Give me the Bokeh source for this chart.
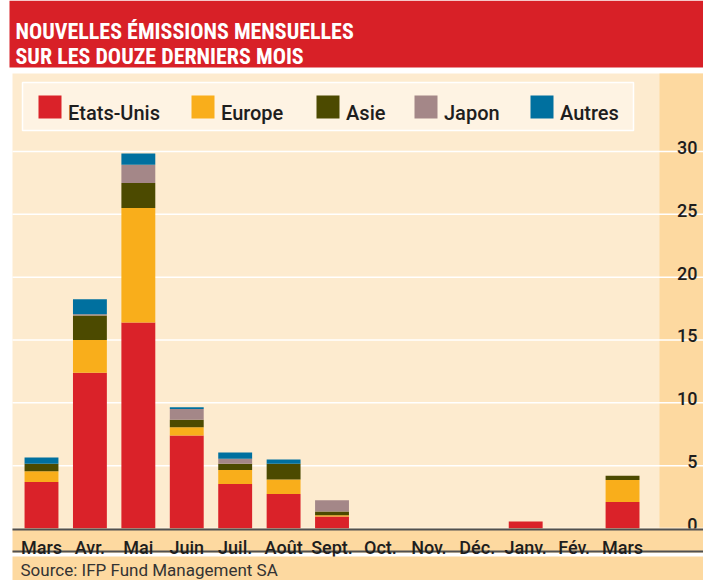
from bokeh.plotting import figure
from bokeh.models import Range1d, ColumnDataSource
from bokeh.core.properties import value
from bokeh.embed import file_html
from bokeh.resources import INLINE

# ---------------- data ----------------
months = ["Mars", "Avr.", "Mai", "Juin", "Juil.", "Août", "Sept.", "Oct.", "Nov.", "Déc.", "Janv.", "Fév.", "Mars"]
series_names = ["Etats-Unis", "Europe", "Asie", "Japon", "Autres"]
etats_unis = [3.7, 12.4, 16.4, 7.4, 3.55, 2.75, 0.95, 0, 0, 0, 0.55, 0, 2.1]
europe = [0.85, 2.6, 9.1, 0.65, 1.1, 1.15, 0.1, 0, 0, 0, 0, 0, 1.75]
asie = [0.6, 1.95, 2.0, 0.6, 0.5, 1.25, 0.3, 0, 0, 0, 0, 0, 0.35]
japon = [0, 0.1, 1.45, 0.85, 0.4, 0, 0.9, 0, 0, 0, 0, 0, 0]
autres = [0.5, 1.2, 0.9, 0.15, 0.5, 0.35, 0, 0, 0, 0, 0, 0, 0]
y_ticks = [0, 5, 10, 15, 20, 25, 30]
y_tick_labels = ["0", "5", "10", "15", "20", "25", "30"]
title_lines = ["NOUVELLES ÉMISSIONS MENSUELLES", "SUR LES DOUZE DERNIERS MOIS"]
source_text = "Source: IFP Fund Management SA"

# ---------------- style ----------------
colors = ["#DA2229", "#F9AE1B", "#4C4A00", "#A48788", "#00709F"]
RED_TITLE = "#D82027"
CREAM = "#FDEBCF"
DARK_CREAM = "#FDD9A0"
LEGEND_FILL = "#FEF3E3"
TEXT = "#1E1E1E"
FONT = "Roboto Medium, Roboto"
TITLE_FONT = "Roboto Condensed, Roboto"

W, H = 703, 580
# pixel layout (figure coordinates, y from top)
ZERO_PX = 528.0
PX_PER_UNIT = 12.567
FIRST_X_PX = 41.0
STEP_PX = 48.42
LEFT = 12

x_start = -FIRST_X_PX / STEP_PX
x_end = (W - FIRST_X_PX) / STEP_PX
y_start = -(H - ZERO_PX) / PX_PER_UNIT
y_end = ZERO_PX / PX_PER_UNIT

p = figure(width=W, height=H, output_backend="svg", toolbar_location=None,
           x_range=Range1d(x_start, x_end), y_range=Range1d(y_start, y_end),
           x_axis_location=None, y_axis_location=None, min_border=0,
           outline_line_color=None, background_fill_color="white",
           border_fill_color="white")
p.xgrid.visible = False
p.ygrid.visible = False
p.extra_x_ranges = {"px": Range1d(0, W)}
p.extra_y_ranges = {"px": Range1d(H, 0)}

PX = dict(x_range_name="px", y_range_name="px")

# title band
p.quad(left=9, right=W, top=0, bottom=67, color=RED_TITLE, line_color=None, **PX)
p.text(x=[15, 15], y=[31, 56], text=title_lines, text_color="white",
       text_font=value(TITLE_FONT), text_font_style="bold",
       text_font_size="22px", text_baseline="alphabetic", **PX)

# chart background
p.quad(left=LEFT, right=W, top=73, bottom=ZERO_PX, color=CREAM, line_color=None, **PX)
p.quad(left=659, right=W, top=73, bottom=ZERO_PX, color=DARK_CREAM, line_color=None, **PX)

# gridlines
p.segment(x0=LEFT, x1=W, y0=y_ticks, y1=y_ticks, line_color="white", line_width=1.5,
          x_range_name="px")

# y tick labels
p.text(x=697, y=y_ticks, text=y_tick_labels, text_align="right", text_baseline="alphabetic",
       y_offset=-4, text_font=value(FONT), text_font_size="18px", text_color=TEXT,
       x_range_name="px")

# legend
p.quad(left=22, right=633, top=82, bottom=130, fill_color=LEGEND_FILL,
       line_color="white", line_width=1.5, **PX)
leg_sq_x = [38, 191, 316, 414, 530]
p.quad(left=leg_sq_x, right=[v + 23 for v in leg_sq_x], top=95, bottom=118,
       color=colors, line_color=None, **PX)
p.text(x=[v + 29.5 for v in leg_sq_x], y=112.3, text=series_names, text_font=value(FONT),
       text_font_size="20px", text_color=TEXT, text_baseline="alphabetic", **PX)

# bars
src = ColumnDataSource(dict(x=list(range(len(months))), us=etats_unis, eu=europe,
                            asie=asie, jp=japon, au=autres))
p.vbar_stack(["us", "eu", "asie", "jp", "au"], x="x", width=0.7, color=colors,
             line_color=None, source=src)

# x axis band
p.quad(left=LEFT, right=W, top=ZERO_PX, bottom=552, color=DARK_CREAM, line_color=None, **PX)
p.segment(x0=LEFT, x1=W, y0=[529, 551], y1=[529, 551], line_color="#505050",
          line_width=2, **PX)
p.text(x=list(range(len(months))), y=546.5, text=months, text_align="center",
       text_baseline="alphabetic", text_font=value(FONT), text_font_size="18px",
       text_color=TEXT, y_range_name="px")

# source band
p.quad(left=LEFT, right=W, top=556, bottom=H, color=DARK_CREAM, line_color=None, **PX)
p.text(x=20, y=569, text=[source_text], text_font=value("Roboto"), text_font_size="17px",
       text_color="#333333", text_baseline="alphabetic", **PX)

open("out.html", "w").write(file_html(p, INLINE))
